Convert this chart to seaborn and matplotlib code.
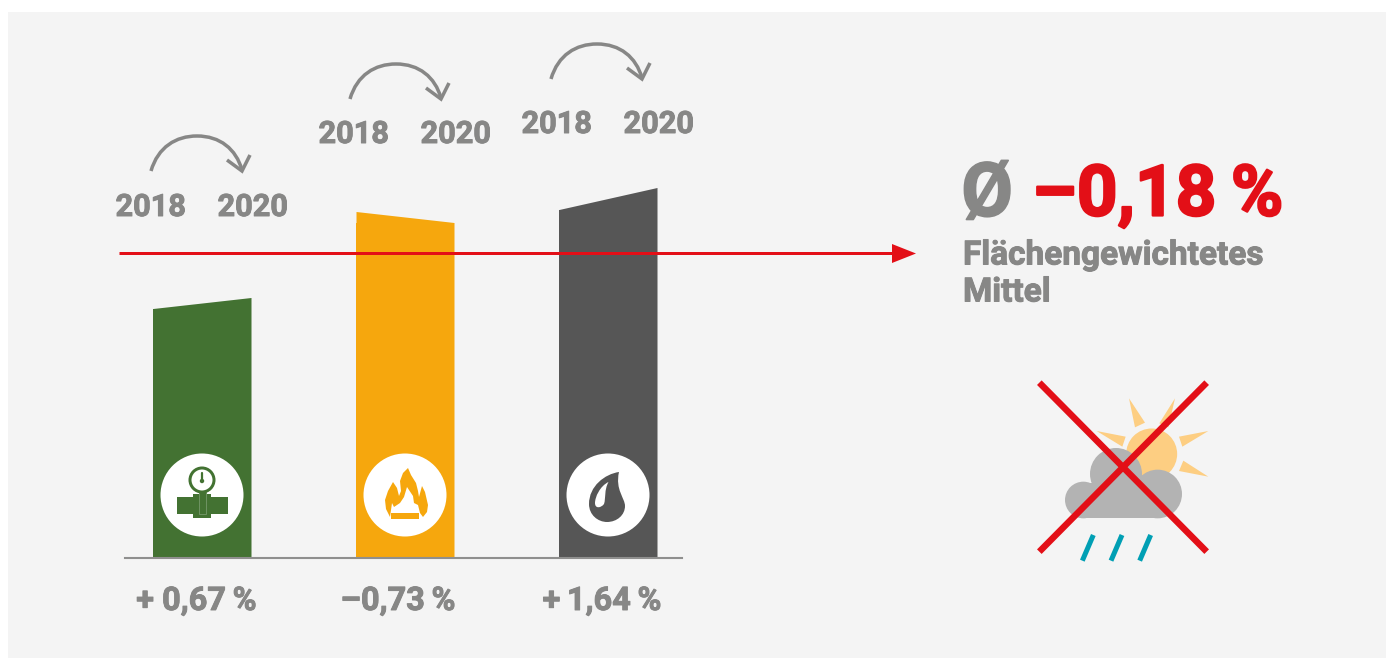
import matplotlib
matplotlib.use("Agg")
import matplotlib.pyplot as plt
import matplotlib.patheffects as pe
from matplotlib.patches import Rectangle, Circle, Polygon, PathPatch
from matplotlib.path import Path
import seaborn as sns

# ---- data (bar heights in picture units) ----
categories = ["Grünland", "Gas", "Öl"]
values_2018 = [249, 346, 348]
values_2020 = [260, 335, 370]
bar_colors = ["#437232", "#f6a70d", "#565656"]
change_labels = ["+ 0,67\u2009%", "\u20130,73\u2009%", "+\u20091,64\u2009%"]
years = ["2018", "2020"]
mean_symbol = "Ø"
mean_label = "\u20130,18\u2009%"
mean_caption = "Flächengewichtetes\nMittel"

GREY = "#878786"
RED = "#e30f17"
PANEL = "#f4f4f4"

sns.set_theme(style="white")
plt.rcParams["font.family"] = ["Roboto", "DejaVu Sans"]

W, H = 1389, 660
fig = plt.figure(figsize=(W / 100, H / 100), dpi=100, facecolor="white")
fig.add_artist(Rectangle((8 / W, 1 - 658 / H), 1378 / W, 646 / H, transform=fig.transFigure,
                         facecolor=PANEL, edgecolor="none", zorder=-1))

# ---- bar chart ----
ax = fig.add_axes([124.5 / W, 1 - 557.5 / H, 558 / W, 557.5 / H], facecolor="none")
bar_w = 98 / 203
floors = [min(a, b) for a, b in zip(values_2018, values_2020)]
sns.barplot(x=categories, y=floors, hue=categories, palette=bar_colors, width=bar_w,
            saturation=1, dodge=False, legend=False, linewidth=0, ax=ax)
for i, (a, b, c) in enumerate(zip(values_2018, values_2020, bar_colors)):
    ax.fill_between([i - bar_w / 2, i + bar_w / 2], [0, 0], [a, b], color=c, linewidth=0)
ax.set_xlim((125 - 202.5) / 203, (683 - 202.5) / 203)
ax.set_ylim(0, 557.5)
ax.set_xticks([])
ax.set_yticks([])
ax.set_xlabel("")
ax.set_ylabel("")
sns.despine(ax=ax, left=True)
ax.spines["bottom"].set_color("#8f8f8e")
ax.spines["bottom"].set_linewidth(1.5)

# ---- overlay in picture coordinates ----
ov = fig.add_axes([0, 0, 1, 1], facecolor="none")
ov.set_xlim(0, W)
ov.set_ylim(H, 0)
ov.axis("off")
PX = 0.72  # points per pixel


def heavy(color, w):
    return [pe.withStroke(linewidth=w, foreground=color)]


def txt(x, y, s, size, color=GREY, ha="center", stroke=0.7, **kw):
    ov.text(x, y, s, fontsize=size * PX, color=color, ha=ha, va="center",
            fontweight="bold", path_effects=heavy(color, stroke), **kw)


# labels under bars
centers = [196.5, 398, 602]
for cx, s in zip(centers, change_labels):
    txt(cx, 601, s, 32.5)

# year labels and curved arrows
arrow_shift = [(0, 0), (199, -72), (400, -92)]
label_shift = [(0, 0), (203, -73), (406, -83)]
for (dx, dy), (lx, ly) in zip(arrow_shift, label_shift):
    verts = [(151 + dx, 171 + dy), (158 + dx, 147 + dy), (176 + dx, 136 + dy), (197 + dx, 136 + dy),
             (220 + dx, 136 + dy), (236 + dx, 149 + dy), (242 + dx, 170 + dy)]
    codes = [Path.MOVETO] + [Path.CURVE4] * 6
    ov.add_patch(PathPatch(Path(verts, codes), fc="none", ec=GREY, lw=3.5 * PX, capstyle="butt"))
    ov.plot([227 + dx, 242 + dx, 250 + dx], [160 + dy, 171 + dy, 155 + dy], color=GREY,
            lw=3.5 * PX, solid_joinstyle="miter", solid_capstyle="butt")
    txt(150.5 + lx, 207 + ly, years[0], 30.7)
    txt(252.5 + lx, 207 + ly, years[1], 30.7)

# icon discs
for cx in (202, 405, 608):
    ov.add_patch(Circle((cx, 495), 41.5, fc="white", ec="none"))

# gauge icon
G = bar_colors[0]
ov.add_patch(Rectangle((177, 497), 51, 17, fc=G, ec="none"))
ov.add_patch(Rectangle((193, 494), 18, 24, fc=G, ec="none"))
ov.add_patch(Rectangle((199, 491), 7, 23, fc=G, ec="#6f9463", lw=0.7))
ov.add_patch(Circle((202, 480), 12, fc="white", ec=G, lw=3 * PX))
ov.plot([202, 202], [473, 480], color=G, lw=1.6)
ov.add_patch(Circle((202, 481), 2.2, fc=G, ec="none"))

# flame icon
O = bar_colors[1]
flame = [(390, 517), (386, 509), (385, 500), (388, 491), (393, 482), (397, 488), (399, 496), (401, 491),
         (400, 481), (403, 473), (408, 468), (411, 475), (416, 483), (418, 491), (419, 497), (422, 486),
         (425, 492), (428, 505), (427, 512), (423, 517), (420, 513), (418, 505), (414, 503), (413, 496),
         (407, 487), (404, 497), (400, 503), (394, 507), (392, 503), (391, 510)]
ov.add_patch(Polygon(flame, closed=True, fc=O, ec="none"))
ov.add_patch(Rectangle((391, 513), 28, 6, fc=O, ec="none"))

# drop icon
D = bar_colors[2]
drop = Path([(619, 472), (605, 474), (589, 486), (589, 504), (589, 515), (598, 522), (607, 522),
             (617, 522), (625, 515), (625, 506), (625, 498), (615, 490), (619, 472), (619, 472)],
            [Path.MOVETO] + [Path.CURVE4] * 12 + [Path.CLOSEPOLY])
ov.add_patch(PathPatch(drop, fc=D, ec="none"))
hi = Path([(608.5, 482), (600, 486), (595, 497), (595, 503), (595, 509), (601, 508), (604, 504),
           (606, 498), (604, 490), (608.5, 482), (608.5, 482)],
          [Path.MOVETO] + [Path.CURVE4] * 9 + [Path.CLOSEPOLY])
ov.add_patch(PathPatch(hi, fc="white", ec="none"))

# red mean line
ov.plot([119, 895], [253, 253], color=RED, lw=3 * PX, solid_capstyle="butt")
ov.add_patch(Polygon([(892, 244), (916, 253.5), (892, 263)], closed=True, fc=RED, ec="none"))

# headline
txt(961, 196, mean_symbol, 75, ha="left", stroke=1.2)
txt(1032, 196, mean_label, 71, color=RED, ha="left", stroke=1.6)
ov.text(963, 274, mean_caption, fontsize=33.4 * PX, color=GREY, ha="left", va="center",
        fontweight="bold", linespacing=1.2, path_effects=heavy(GREY, 0.7))


# weather icon (helper converts local crop units to picture position)
def z(x, y):
    return 1020 + x / 3, 370 + y / 3


SUN = "#fdce82"
ov.add_patch(Circle(z(395, 252), 25.5, fc=SUN, ec="none"))
for tri in ([(327, 85), (375, 158), (345, 172)], [(465, 85), (418, 160), (445, 172)],
            [(565, 183), (477, 200), (487, 230)], [(565, 320), (490, 272), (477, 303)],
            [(230, 183), (317, 200), (307, 230)]):
    ov.add_patch(Polygon([z(*p) for p in tri], closed=True, fc=SUN, ec="none"))
CLOUD = "#b3b3b3"
for c, r in (((190, 390), 55), ((288, 312), 78), ((413, 372), 73)):
    ov.add_patch(Circle(z(*c), r / 3, fc=CLOUD, ec="none"))
x0, y0 = z(190, 340)
ov.add_patch(Rectangle((x0, y0), 225 / 3, 105 / 3, fc=CLOUD, ec="none"))
for xa in (220, 306, 392):
    (a, b), (c, d) = z(xa, 495), z(xa - 33, 572)
    ov.plot([a, c], [b, d], color="#009fb4", lw=5 * PX, solid_capstyle="butt")
for (a, b) in (((58, 38), (560, 545)), ((560, 38), (58, 545))):
    (x1, y1), (x2, y2) = z(*a), z(*b)
    ov.plot([x1, x2], [y1, y2], color=RED, lw=6.5 * PX, solid_capstyle="butt")

fig.savefig("out.png", dpi=100, facecolor="white")
